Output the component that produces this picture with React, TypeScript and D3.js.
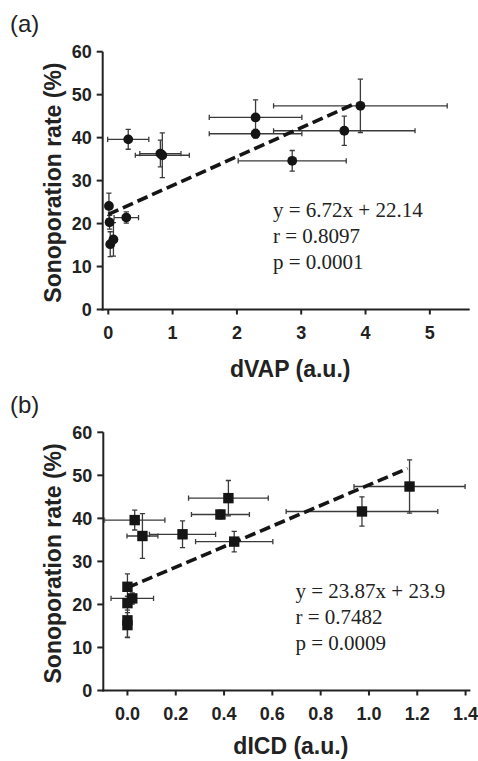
import React from "react";
import * as d3 from "d3";

// Sonoporation rate (%) for each experimental condition, shared by both panels
const sonoporationRate = [39.6, 35.9, 36.3, 40.9, 44.7, 34.6, 41.6, 47.4, 24.1, 21.4, 20.3, 16.3, 15.2];
const sonoporationErr = [2.3, 5.2, 3.1, 1.0, 4.1, 2.4, 3.4, 6.2, 3.0, 1.3, 1.6, 3.9, 2.9];

// Panel (a): dVAP
const dVAP = [0.31, 0.84, 0.81, 2.29, 2.29, 2.86, 3.67, 3.92, 0.01, 0.28, 0.02, 0.08, 0.03];
const dVAPErr = [0.32, 0.42, 0.32, 0.72, 0.72, 0.84, 1.1, 1.35, 0.03, 0.19, 0.03, 0.04, 0.03];

// Panel (b): dICD
const dICD = [0.03, 0.062, 0.228, 0.385, 0.418, 0.442, 0.971, 1.168, 0.0, 0.02, 0.0, 0.0, 0.0];
const dICDErr = [0.125, 0.064, 0.137, 0.12, 0.165, 0.16, 0.314, 0.23, 0.01, 0.088, 0.01, 0.01, 0.01];

// Linear fits
const fitA = { slope: 6.72, intercept: 22.14, from: 0, to: 3.8 };
const fitB = { slope: 23.87, intercept: 23.9, from: 0, to: 1.16 };

const statsA = ["y = 6.72x + 22.14", "r = 0.8097", "p = 0.0001"];
const statsB = ["y = 23.87x + 23.9", "r = 0.7482", "p = 0.0009"];

const yTicks = [0, 10, 20, 30, 40, 50, 60];
const xTicksA = [0, 1, 2, 3, 4, 5];
const xTicksB = [0, 0.2, 0.4, 0.6, 0.8, 1.0, 1.2, 1.4];

const SANS = "'Liberation Sans', Arial, sans-serif";
const SERIF = "'Liberation Serif', 'Times New Roman', serif";

type PanelProps = {
  id: string;
  tag: string;
  tagY: number;
  xs: number[];
  xErr: number[];
  xDomain: [number, number];
  xRange: [number, number];
  yRange: [number, number];
  xTicks: number[];
  xFormat: (v: number) => string;
  xTitle: string;
  xTitleGap: number;
  fit: { slope: number; intercept: number; from: number; to: number };
  stats: string[];
  statsX: number;
  statsY: number;
  marker: "circle" | "square";
};

function Panel(p: PanelProps) {
  const x = d3.scaleLinear().domain(p.xDomain).range(p.xRange);
  const y = d3.scaleLinear().domain([0, 60]).range(p.yRange);
  const [x0, x1] = p.xRange;
  const [yb, yt] = p.yRange;
  const cap = 2.6;
  const errColor = "#3a3a3a";
  const fitLine = d3
    .line<number>()
    .x((v) => x(v))
    .y((v) => y(p.fit.slope * v + p.fit.intercept));
  const clipId = `clip-${p.id}`;

  return (
    <g>
      <defs>
        <clipPath id={clipId}>
          <rect x={x0 + 1} y={yt - 10} width={x1 - x0 + 10} height={yb - yt + 10} />
        </clipPath>
      </defs>
      <text x={10} y={p.tagY} fontFamily={SANS} fontSize={24} fill="#222">
        {p.tag}
      </text>

      {/* error bars */}
      <g clipPath={`url(#${clipId})`} stroke={errColor} strokeWidth={1.3} fill="none">
        {sonoporationRate.map((r, i) => {
          const cx = x(p.xs[i]);
          const cy = y(r);
          const xl = x(p.xs[i] - p.xErr[i]);
          const xr = x(p.xs[i] + p.xErr[i]);
          const yl = y(r - sonoporationErr[i]);
          const yh = y(r + sonoporationErr[i]);
          return (
            <g key={i}>
              <line x1={xl} x2={xr} y1={cy} y2={cy} />
              <line x1={xl} x2={xl} y1={cy - cap} y2={cy + cap} />
              <line x1={xr} x2={xr} y1={cy - cap} y2={cy + cap} />
              <line x1={cx} x2={cx} y1={yl} y2={yh} />
              <line x1={cx - cap} x2={cx + cap} y1={yl} y2={yl} />
              <line x1={cx - cap} x2={cx + cap} y1={yh} y2={yh} />
            </g>
          );
        })}
      </g>

      {/* markers */}
      <g fill="#151515">
        {sonoporationRate.map((r, i) =>
          p.marker === "circle" ? (
            <circle key={i} cx={x(p.xs[i])} cy={y(r)} r={4.9} />
          ) : (
            <rect key={i} x={x(p.xs[i]) - 5.2} y={y(r) - 5.2} width={10.4} height={10.4} />
          )
        )}
      </g>

      {/* regression line */}
      <path
        d={fitLine([p.fit.from, p.fit.to]) ?? ""}
        stroke="#151515"
        strokeWidth={3.6}
        strokeDasharray="11 5"
        fill="none"
      />

      {/* axes */}
      <g stroke="#222" strokeWidth={2}>
        <line x1={x0} x2={x0} y1={yb + 1} y2={yt} />
        <line x1={x0 - 1} x2={x1} y1={yb} y2={yb} />
        {yTicks.map((t) => (
          <line key={t} x1={x0 - 6} x2={x0} y1={y(t)} y2={y(t)} />
        ))}
        {p.xTicks.map((t) => (
          <line key={t} x1={x(t)} x2={x(t)} y1={yb} y2={yb + 5} />
        ))}
      </g>
      <g fontFamily={SANS} fontWeight="bold" fontSize={18} fill="#222">
        {yTicks.map((t) => (
          <text key={t} x={x0 - 11} y={y(t)} dy="0.35em" textAnchor="end">
            {t}
          </text>
        ))}
        {p.xTicks.map((t) => (
          <text key={t} x={x(t)} y={yb + 29} textAnchor="middle">
            {p.xFormat(t)}
          </text>
        ))}
      </g>
      <text
        x={(x0 + x1) / 2 + 4}
        y={yb + p.xTitleGap}
        textAnchor="middle"
        fontFamily={SANS}
        fontWeight="bold"
        fontSize={23}
        fill="#222"
      >
        {p.xTitle}
      </text>
      <text
        transform={`translate(61, ${(yb + yt) / 2 + 2}) rotate(-90)`}
        textAnchor="middle"
        fontFamily={SANS}
        fontWeight="bold"
        fontSize={23}
        fill="#222"
      >
        Sonoporation rate (%)
      </text>

      {/* fit statistics */}
      <g fontFamily={SERIF} fontSize={21} fill="#222">
        {p.stats.map((s, i) => (
          <text key={i} x={p.statsX} y={p.statsY + i * 26}>
            {s}
          </text>
        ))}
      </g>
    </g>
  );
}

export default function App() {
  return (
    <svg
      width={478}
      height={761}
      style={{ position: "absolute", left: 0, top: 0, background: "#fff" }}
    >
      <Panel
        id="a"
        tag="(a)"
        tagY={32}
        xs={dVAP}
        xErr={dVAPErr}
        xDomain={[-0.087, 5.62]}
        xRange={[102.7, 469.7]}
        yRange={[309.5, 51.7]}
        xTicks={xTicksA}
        xFormat={(v) => d3.format("d")(v)}
        xTitle="dVAP (a.u.)"
        xTitleGap={67}
        fit={fitA}
        stats={statsA}
        statsX={273}
        statsY={217}
        marker="circle"
      />
      <Panel
        id="b"
        tag="(b)"
        tagY={413}
        xs={dICD}
        xErr={dICDErr}
        xDomain={[-0.1, 1.42]}
        xRange={[103.3, 470.4]}
        yRange={[690.5, 432.3]}
        xTicks={xTicksB}
        xFormat={(v) => d3.format(".1f")(v)}
        xTitle="dICD (a.u.)"
        xTitleGap={63}
        fit={fitB}
        stats={statsB}
        statsX={295.5}
        statsY={597.5}
        marker="square"
      />
    </svg>
  );
}
